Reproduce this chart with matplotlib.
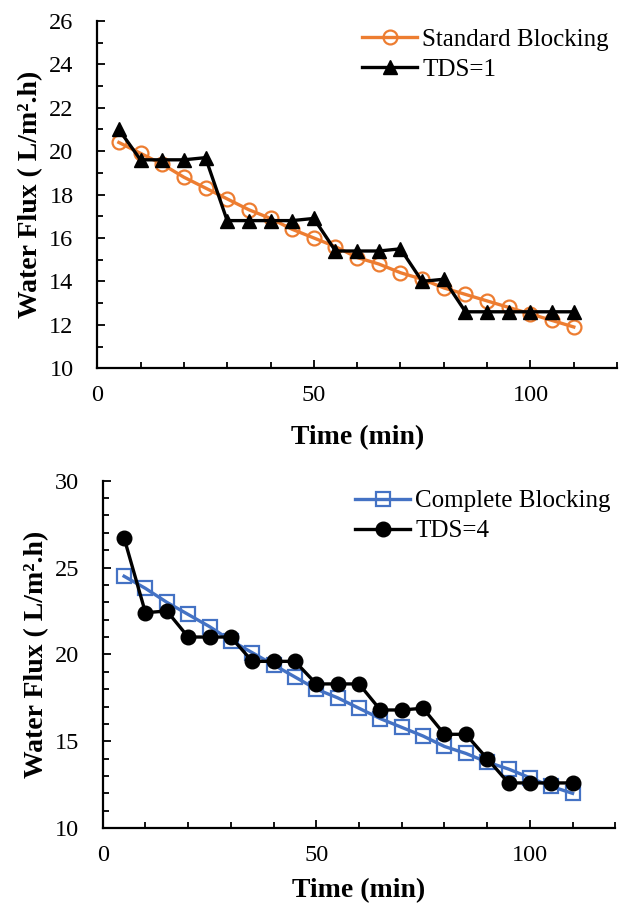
import matplotlib
matplotlib.use('Agg')
import matplotlib.pyplot as plt
from matplotlib.ticker import MultipleLocator

# 字体配置
plt.rcParams['font.family'] = ['Liberation Serif', 'DejaVu Serif']

# 时间 (min)
time = [5, 10, 15, 20, 25, 30, 35, 40, 45, 50, 55,
        60, 65, 70, 75, 80, 85, 90, 95, 100, 105, 110]

# 上图：标准堵塞模型 与 TDS=1 实测
standard_blocking = [20.4, 19.9, 19.4, 18.8, 18.3, 17.8, 17.3, 16.9, 16.4, 16.0, 15.6,
                     15.1, 14.8, 14.4, 14.1, 13.7, 13.4, 13.1, 12.8, 12.5, 12.2, 11.9]
tds_1 = [21.0, 19.6, 19.6, 19.6, 19.7, 16.8, 16.8, 16.8, 16.8, 16.9, 15.4,
         15.4, 15.4, 15.5, 14.0, 14.1, 12.6, 12.6, 12.6, 12.6, 12.6, 12.6]

# 下图：完全堵塞模型 与 TDS=4 实测
complete_blocking = [24.5, 23.8, 23.0, 22.3, 21.6, 20.8, 20.1, 19.4, 18.7, 18.0, 17.5,
                     16.9, 16.3, 15.8, 15.3, 14.7, 14.3, 13.8, 13.4, 12.9, 12.4, 12.0]
tds_4 = [26.7, 22.4, 22.5, 21.0, 21.0, 21.0, 19.6, 19.6, 19.6, 18.3, 18.3,
         18.3, 16.8, 16.8, 16.9, 15.4, 15.4, 14.0, 12.6, 12.6, 12.6, 12.6]

ORANGE = '#ED7D31'
BLUE = '#4472C4'

fig = plt.figure(figsize=(6.19, 9.07), dpi=100)
ax1 = fig.add_axes([0.157, 0.594, 0.840, 0.383])
ax2 = fig.add_axes([0.166, 0.087, 0.828, 0.383])


def style_axis(ax, ymin, ymax, ymajor, xlabel_y):
    ax.set_xlim(0, 120)
    ax.set_ylim(ymin, ymax)
    ax.xaxis.set_major_locator(MultipleLocator(50))
    ax.xaxis.set_minor_locator(MultipleLocator(10))
    ax.yaxis.set_major_locator(MultipleLocator(ymajor))
    ax.yaxis.set_minor_locator(MultipleLocator(1))
    ax.tick_params(which='both', direction='in', width=1.3, labelsize=17.5)
    ax.tick_params(which='major', length=5.5)
    ax.tick_params(which='minor', length=4.5)
    ax.tick_params(axis='x', pad=12)
    ax.tick_params(axis='y', pad=17)
    for side in ['top', 'right']:
        ax.spines[side].set_visible(False)
    for side in ['left', 'bottom']:
        ax.spines[side].set_linewidth(1.6)
    ax.set_xlabel('Time (min)', fontsize=20, fontweight='bold')
    ax.xaxis.set_label_coords(0.5, xlabel_y)
    ax.set_ylabel('Water Flux ( L/m².h)', fontsize=20, fontweight='bold', labelpad=4)


# 上图
ax1.plot(time, standard_blocking, '-o', color=ORANGE, lw=2.4, ms=10,
         mfc='none', mec=ORANGE, mew=1.6, label='Standard Blocking')
ax1.plot(time, tds_1, '-^', color='black', lw=2.4, ms=10.5, label='TDS=1')
style_axis(ax1, 10, 26, 2, -0.165)
ax1.legend(loc='upper left', bbox_to_anchor=(0.585, 0.969), bbox_transform=fig.transFigure,
           frameon=False, fontsize=18, handlelength=2.2, handletextpad=0.2,
           labelspacing=0.3, borderpad=0, borderaxespad=0)

# 下图
ax2.plot(time, complete_blocking, '-s', color=BLUE, lw=2.4, ms=10,
         mfc='none', mec=BLUE, mew=1.6, label='Complete Blocking')
ax2.plot(time, tds_4, '-o', color='black', lw=2.4, ms=10.5, label='TDS=4')
style_axis(ax2, 10, 30, 5, -0.145)
ax2.legend(loc='upper left', bbox_to_anchor=(0.574, 0.460), bbox_transform=fig.transFigure,
           frameon=False, fontsize=18, handlelength=2.2, handletextpad=0.2,
           labelspacing=0.3, borderpad=0, borderaxespad=0)

fig.savefig('out.png', dpi=100)
